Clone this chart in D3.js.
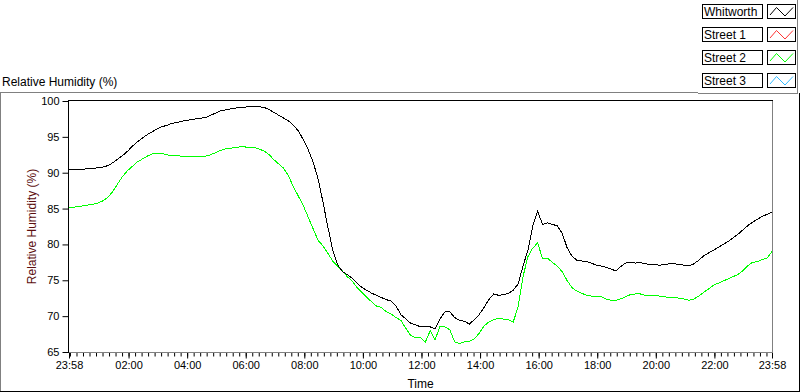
<!DOCTYPE html>
<html>
<head>
<meta charset="utf-8">
<script src="https://cdn.jsdelivr.net/npm/d3@7"></script>
<style>
  body { margin: 0; background: #fff; }
  svg { display: block; font-family: "Liberation Sans", Arial, sans-serif; }
  .tick text { font-size: 11px; fill: #000; }
</style>
</head>
<body>
<div id="chart"></div>
<script>
// readings are every 10 minutes starting at 23:58
var stepMinutes = 10;

var seriesNames = ["Whitworth", "Street 1", "Street 2", "Street 3"];
var seriesColors = ["#000000", "#ff3333", "#00ff00", "#33bbff"];

var whitworth = [
    90.4, 90.45, 90.5, 90.5, 90.55, 90.6, 90.7, 90.8, 91.0, 91.4,
    91.9, 92.4, 93.0, 93.7, 94.3, 94.8, 95.3, 95.7, 96.1, 96.4,
    96.6, 96.85, 97.0, 97.15, 97.3, 97.4, 97.5, 97.6, 97.7, 98.0,
    98.3, 98.6, 98.75, 98.9, 99.0, 99.1, 99.15, 99.2, 99.25, 99.2,
    99.1, 98.8, 98.4, 98.0, 97.6, 97.2, 96.6, 95.8, 94.6, 93.2,
    91.5, 89.2, 86.0, 82.5, 79.3, 77.2, 76.2, 75.8, 75.3, 74.6,
    74.0, 73.6, 73.2, 72.9, 72.6, 72.3, 72.1, 71.4, 70.2, 69.6,
    69.0, 68.8, 68.5, 68.5, 68.5, 68.2, 69.6, 70.6, 70.6, 69.8,
    69.4, 69.3, 68.9, 69.5, 70.2, 71.2, 72.3, 73.1, 72.9, 73.0,
    73.2, 73.6, 74.5, 77.0, 79.2, 82.6, 84.6, 82.8, 83.0, 82.8,
    82.6, 81.6, 79.6, 78.4, 77.8, 77.7, 77.6, 77.4, 77.1, 77.0,
    76.8, 76.6, 76.3, 76.9, 77.4, 77.5, 77.4, 77.5, 77.3, 77.2,
    77.2, 77.1, 77.2, 77.3, 77.3, 77.2, 77.1, 77.0, 77.3, 77.8,
    78.4, 78.8, 79.2, 79.6, 80.0, 80.4, 80.9, 81.4, 82.0, 82.6,
    83.1, 83.5, 83.9, 84.2, 84.5
];

var street1 = [];

var street2 = [
    85.1, 85.2, 85.3, 85.4, 85.5, 85.6, 85.8, 86.1, 86.6, 87.4,
    88.5, 89.5, 90.3, 90.9, 91.5, 91.9, 92.3, 92.6, 92.7, 92.7,
    92.5, 92.4, 92.4, 92.3, 92.3, 92.3, 92.2, 92.3, 92.3, 92.5,
    92.8, 93.1, 93.3, 93.4, 93.5, 93.6, 93.6, 93.5, 93.5, 93.3,
    93.0, 92.5, 91.8, 91.2, 90.6, 89.5, 88.0, 86.7, 85.4, 83.8,
    82.2, 80.6, 79.8, 78.8, 77.7, 77.0, 76.3, 75.5, 74.9, 74.0,
    73.3, 72.6, 72.0, 71.4, 71.2, 70.6, 70.3, 69.8, 69.4, 68.3,
    67.3, 67.0, 67.0, 66.4, 68.0, 66.7, 68.6, 68.5, 68.1, 66.4,
    66.2, 66.4, 66.5, 66.8, 67.6, 68.6, 69.2, 69.5, 69.7, 69.6,
    69.5, 69.2, 71.3, 75.5, 78.3, 79.5, 80.2, 78.0, 78.1, 77.5,
    77.0, 76.2, 75.0, 74.0, 73.5, 73.2, 72.9, 72.8, 72.8, 72.7,
    72.4, 72.2, 72.2, 72.4, 72.7, 73.0, 73.1, 73.1, 72.9, 72.8,
    72.9, 72.8, 72.7, 72.6, 72.6, 72.5, 72.4, 72.2, 72.4, 72.8,
    73.3, 73.8, 74.3, 74.6, 74.9, 75.2, 75.5, 75.8, 76.3, 77.0,
    77.5, 77.6, 77.9, 78.1, 79.0
];

var street3 = [];

var yTicks = [65, 70, 75, 80, 85, 90, 95, 100];

var width = 800, height = 392;
var startTime = new Date(2000, 0, 1, 23, 58);
var endTime = new Date(2000, 0, 2, 23, 58);

var svg = d3.select('#chart')
    .append('svg')
    .attr('width', width)
    .attr('height', height);

svg.append('rect').attr('width', width).attr('height', height).attr('fill', '#fff');

// frame around the graph part
svg.append('line').attr('x1', 0).attr('x2', 698).attr('y1', 92.5).attr('y2', 92.5).attr('stroke', '#808080');
svg.append('line').attr('x1', 0.5).attr('x2', 0.5).attr('y1', 92).attr('y2', 392).attr('stroke', '#808080');
svg.append('line').attr('x1', 0).attr('x2', 800).attr('y1', 391.5).attr('y2', 391.5).attr('stroke', '#000');
svg.append('line').attr('x1', 799.5).attr('x2', 799.5).attr('y1', 93).attr('y2', 392).attr('stroke', '#000');

svg.append('text')
    .attr('x', 2)
    .attr('y', 86)
    .attr('font-size', 12)
    .text('Relative Humidity (%)');

var x = d3.scaleTime()
    .domain([startTime, endTime])
    .range([69, 772]);

var y = d3.scaleLinear()
    .domain([65, 100])
    .range([352, 101]);

var timeAt = function (i) { return new Date(startTime.getTime() + i * stepMinutes * 60000); };

// axes
var majors = [startTime].concat(d3.timeHour.every(2).range(new Date(2000, 0, 2, 2, 0), endTime)).concat([endTime]);
var minors = [];
var minorStep = 2 * 3600000 / 9;
var anchor = new Date(2000, 0, 2, 2, 0).getTime();
for (var k = -10; k < 200; k++) {
    var t = anchor + k * minorStep;
    if (t > startTime.getTime() && t < endTime.getTime())
        minors.push(new Date(t));
}

svg.append('g')
    .attr('transform', 'translate(0,352.5)')
    .call(d3.axisBottom(x).tickValues(minors).tickSize(4).tickFormat(''))
    .call(function (g) { g.select('.domain').remove(); });

svg.append('g')
    .attr('transform', 'translate(0,352.5)')
    .call(d3.axisBottom(x).tickValues(majors).tickSize(6).tickPadding(3).tickFormat(d3.timeFormat('%H:%M')))
    .call(function (g) { g.select('.domain').remove(); });

svg.append('g')
    .attr('transform', 'translate(68.5,0)')
    .call(d3.axisLeft(y).tickValues(yTicks).tickSize(6).tickPadding(3))
    .call(function (g) { g.select('.domain').remove(); });

svg.selectAll('.tick line').attr('stroke', '#000');

// plot area border
svg.append('line').attr('x1', 772.5).attr('x2', 772.5).attr('y1', 101).attr('y2', 353).attr('stroke', '#808080');
svg.append('line').attr('x1', 68).attr('x2', 773).attr('y1', 352.5).attr('y2', 352.5).attr('stroke', '#808080');
svg.append('line').attr('x1', 68).attr('x2', 773).attr('y1', 100.5).attr('y2', 100.5).attr('stroke', '#000');
svg.append('line').attr('x1', 68.5).attr('x2', 68.5).attr('y1', 100).attr('y2', 353).attr('stroke', '#000');

svg.append('text')
    .attr('transform', 'translate(36,226.5) rotate(-90)')
    .attr('text-anchor', 'middle')
    .attr('font-size', 12)
    .attr('fill', '#5c0f0f')
    .text('Relative Humidity (%)');

svg.append('text')
    .attr('x', 420.5)
    .attr('y', 388)
    .attr('text-anchor', 'middle')
    .attr('font-size', 12)
    .text('Time');

var line = d3.line()
    .x(function (d, i) { return x(timeAt(i)); })
    .y(function (d) { return y(d); });

var allSeries = [whitworth, street1, street2, street3];
// draw later series underneath the first one
[2, 3, 1, 0].forEach(function (s) {
    if (allSeries[s].length === 0) return;
    svg.append('path')
        .datum(allSeries[s])
        .attr('d', line)
        .attr('fill', 'none')
        .attr('stroke', seriesColors[s])
        .attr('stroke-width', 1)
        .style('shape-rendering', 'crispEdges');
});

// legend panel
svg.append('line').attr('x1', 698).attr('x2', 798).attr('y1', 93.5).attr('y2', 93.5).attr('stroke', '#808080');
svg.append('line').attr('x1', 797.5).attr('x2', 797.5).attr('y1', 0).attr('y2', 94).attr('stroke', '#808080');

var legend = svg.selectAll('.legend')
    .data(seriesNames)
    .enter().append('g')
    .attr('class', 'legend')
    .attr('transform', function (d, i) { return 'translate(0,' + (4 + i * 23) + ')'; });

legend.append('rect')
    .attr('x', 702.5).attr('y', 0.5)
    .attr('width', 60).attr('height', 14)
    .attr('fill', '#fff').attr('stroke', '#000');

legend.append('text')
    .attr('x', 704)
    .attr('y', 12)
    .attr('font-size', 12)
    .text(function (d) { return d; });

legend.append('rect')
    .attr('x', 767.5).attr('y', 0.5)
    .attr('width', 28).attr('height', 14)
    .attr('fill', '#fff').attr('stroke', '#000');

legend.append('path')
    .attr('d', 'M770,11L776.5,3.5L785,12L793,3.5')
    .attr('fill', 'none')
    .attr('stroke', function (d, i) { return seriesColors[i]; });
</script>
</body>
</html>
